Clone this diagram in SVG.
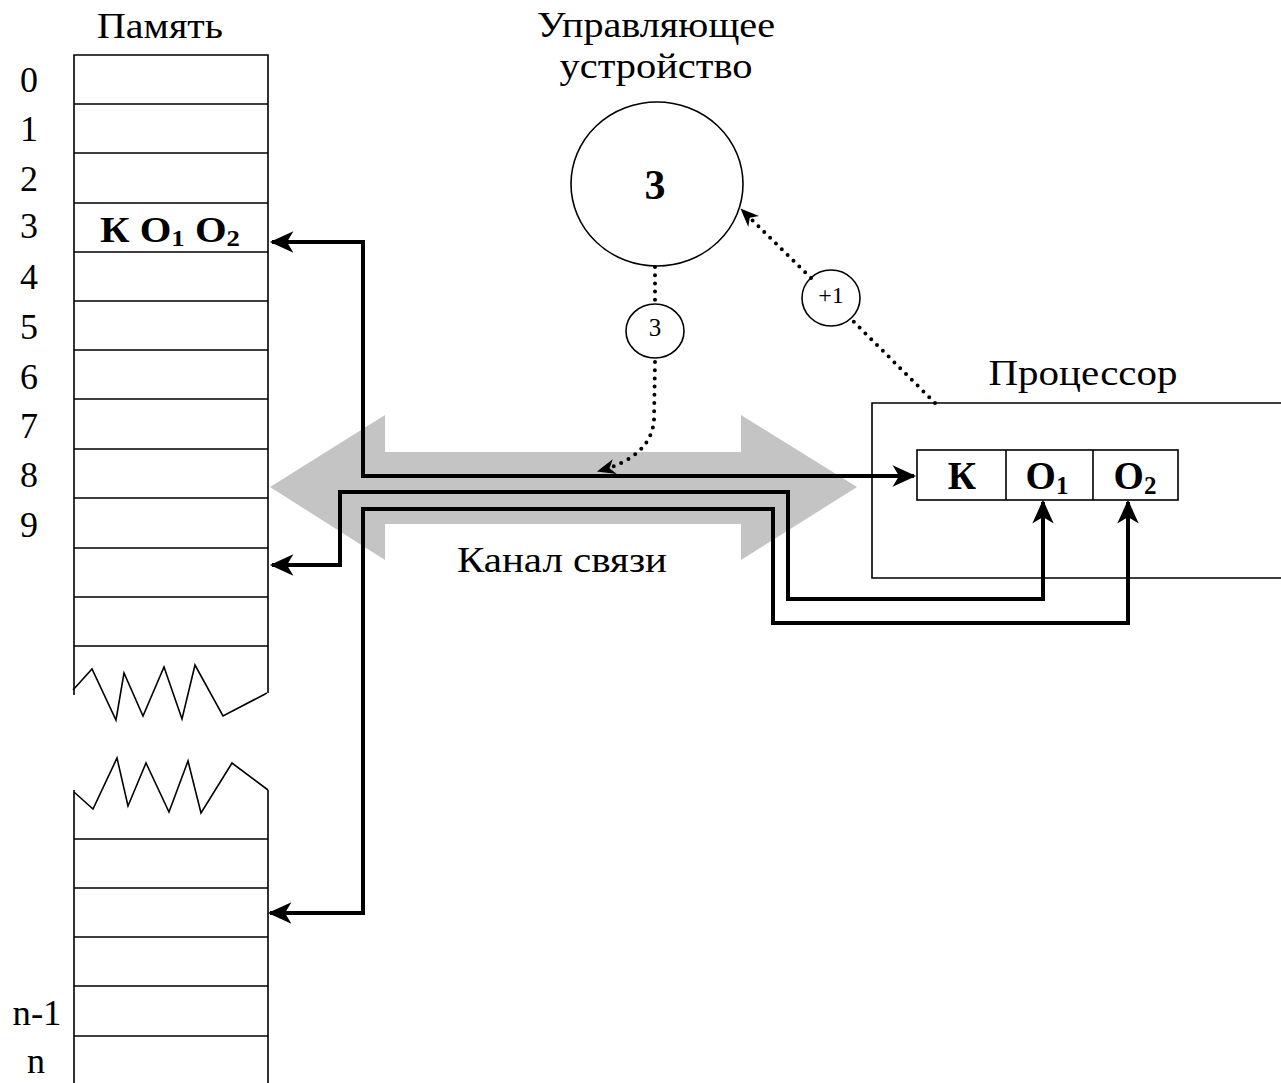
<svg xmlns="http://www.w3.org/2000/svg" width="1281" height="1083" viewBox="0 0 1281 1083">
<style>
text{font-family:"Liberation Serif","Times New Roman",serif;fill:#000}
.lbl{font-size:35px}
.num{font-size:36px;text-anchor:middle}
.b{font-weight:bold}
.thin{fill:none;stroke:#000;stroke-width:1.6}
.conn{fill:none;stroke:#000;stroke-width:4;stroke-linejoin:miter}
.dot{fill:none;stroke:#000;stroke-width:4;stroke-linecap:round;stroke-dasharray:0 8.2}
</style>
<defs>
<marker id="ah" markerUnits="userSpaceOnUse" markerWidth="30" markerHeight="30" viewBox="-24 -12 28 24" refX="0" refY="0" orient="auto-start-reverse">
<path d="M2,0 L-20,-10 L-14,0 L-20,10 Z" fill="#000"/>
</marker>
<marker id="dh" markerUnits="userSpaceOnUse" markerWidth="24" markerHeight="24" viewBox="-18 -10 22 20" refX="0" refY="0" orient="auto">
<path d="M2,0 L-15,-7 L-10,0 L-15,7 Z" fill="#000"/>
</marker>
</defs>
<rect width="1281" height="1083" fill="#fff"/>

<g id="channel">
<polygon points="270,487 385,415 385,452 741,452 741,415 857,487 741,560 741,524 385,524 385,560" fill="#c4c4c4"/>
<text class="lbl" x="562" y="572" text-anchor="middle" textLength="210" lengthAdjust="spacingAndGlyphs">Канал связи</text>
</g>

<g id="memory">
<text class="lbl" x="160" y="38" text-anchor="middle" textLength="126" lengthAdjust="spacingAndGlyphs">Память</text>
<path class="thin" d="M74,695 V55 H268 V693 M74,104 H268 M74,153 H268 M74,203 H268 M74,252 H268 M74,301 H268 M74,350 H268 M74,399 H268 M74,449 H268 M74,498 H268 M74,548 H268 M74,597 H268 M74,646 H268"/>
<polyline class="thin" points="73,690 92,669 116,720 124,673 143,716 164,667 182,719 195,665 223,716 267,693"/>
<polyline class="thin" points="74,792 93,809 117,758 128,806 146,763 169,812 188,761 201,813 232,763 268,790"/>
<path class="thin" d="M74,790 V1083 M268,790 V1083 M74,839 H268 M74,888 H268 M74,937 H268 M74,986 H268 M74,1036 H268"/>
<text class="lbl b" x="100" y="242" textLength="140" lengthAdjust="spacingAndGlyphs">К O<tspan font-size="23" dy="4">1</tspan><tspan dy="-4"> O</tspan><tspan font-size="23" dy="4">2</tspan></text>
<text class="num" x="29" y="92">0</text>
<text class="num" x="29" y="141">1</text>
<text class="num" x="29" y="191">2</text>
<text class="num" x="29" y="238">3</text>
<text class="num" x="29" y="289">4</text>
<text class="num" x="29" y="339">5</text>
<text class="num" x="29" y="389">6</text>
<text class="num" x="29" y="438">7</text>
<text class="num" x="29" y="487">8</text>
<text class="num" x="29" y="537">9</text>
<text class="num" x="37" y="1025" textLength="49" lengthAdjust="spacingAndGlyphs">n-1</text>
<text class="num" x="36" y="1073">n</text>
</g>

<g id="control-unit">
<text class="lbl" x="656" y="37" text-anchor="middle" textLength="238" lengthAdjust="spacingAndGlyphs">Управляющее</text>
<text class="lbl" x="656" y="78" text-anchor="middle" textLength="193" lengthAdjust="spacingAndGlyphs">устройство</text>
<ellipse class="thin" cx="657" cy="184" rx="86" ry="82"/>
<text class="b" x="655" y="199" font-size="42" text-anchor="middle">3</text>
</g>

<g id="addr-circle">
<ellipse class="thin" cx="655" cy="331" rx="29" ry="27"/>
<text x="655" y="336" font-size="25" text-anchor="middle">3</text>
</g>

<g id="inc-circle">
<ellipse class="thin" cx="831" cy="298" rx="29" ry="28"/>
<text x="831" y="303" font-size="24" text-anchor="middle">+1</text>
</g>

<g id="processor">
<text class="lbl" x="1083" y="385" text-anchor="middle" textLength="189" lengthAdjust="spacingAndGlyphs">Процессор</text>
<path class="thin" d="M1281,403 H872 V578 H1281"/>
<rect class="thin" x="917" y="450" width="261" height="50"/>
<path class="thin" d="M1006,450 V500 M1093,450 V500"/>
<text class="b" x="962" y="489" font-size="39" text-anchor="middle">К</text>
<text class="b" x="1047" y="489" font-size="39" text-anchor="middle">O<tspan font-size="25" dy="5">1</tspan></text>
<text class="b" x="1135" y="489" font-size="39" text-anchor="middle">O<tspan font-size="25" dy="5">2</tspan></text>
</g>

<g id="connectors">
<path class="conn" d="M272,242 H363 V476 H914" marker-start="url(#ah)" marker-end="url(#ah)"/>
<path class="conn" d="M272,565 H340 V492 H788 V599 H1043 V502" marker-start="url(#ah)" marker-end="url(#ah)"/>
<path class="conn" d="M270,913 H363 V509 H773 V623 H1128 V502" marker-start="url(#ah)" marker-end="url(#ah)"/>
<path class="dot" d="M655,267 V303"/>
<path class="dot" d="M655,362 L654,420 C652,446 632,462 599,471" marker-end="url(#dh)"/>
<path class="dot" d="M935,403 L852,320"/>
<path class="dot" d="M811,278 L742,210" marker-end="url(#dh)"/>
</g>
</svg>
